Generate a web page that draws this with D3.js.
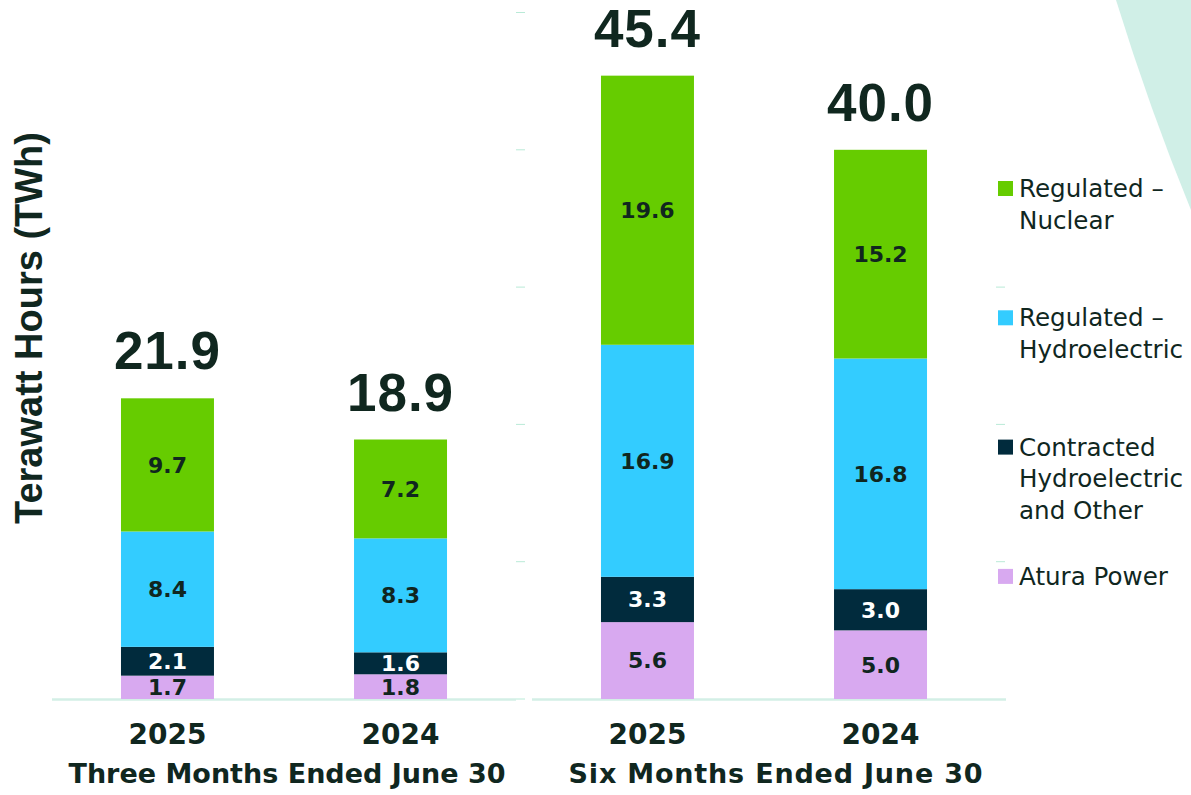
<!DOCTYPE html>
<html>
<head>
<meta charset="utf-8">
<script src="https://cdn.jsdelivr.net/npm/d3@7/dist/d3.min.js"></script>
<style>
  html, body { margin: 0; padding: 0; background: #ffffff; }
  svg { display: block; }
</style>
</head>
<body>
<svg id="chart" width="1191" height="795"></svg>
<script>
// ---------- data ----------
const years = ["2025", "2024"];
const periods = ["Three Months Ended June 30", "Six Months Ended June 30"];
const seriesNames = ["Atura Power", "Contracted Hydroelectric and Other", "Regulated – Hydroelectric", "Regulated – Nuclear"];
const legendLines = [["Regulated –", "Nuclear"], ["Regulated –", "Hydroelectric"], ["Contracted", "Hydroelectric", "and Other"], ["Atura Power"]];
// values per period, per year (order of years)
const atura       = [[1.7, 1.8], [5.6, 5.0]];
const contracted  = [[2.1, 1.6], [3.3, 3.0]];
const hydro       = [[8.4, 8.3], [16.9, 16.8]];
const nuclear     = [[9.7, 7.2], [19.6, 15.2]];
const totals      = [[21.9, 18.9], [45.4, 40.0]];
const yTicks = [0, 10, 20, 30, 40, 50];

// ---------- styles ----------
const colors = ["#d8a9f0", "#012b3d", "#33ccff", "#66cc00"];
const labelColors = ["#10261f", "#ffffff", "#10261f", "#10261f"];
const textDark = "#10271f";
const mint = "#d0efe7";

const svg = d3.select("#chart");

// decorative mint shape top-right
svg.append("path")
  .attr("d", "M1116,0 Q1150,110 1191,210 L1191,0 Z")
  .attr("fill", mint);

const y = d3.scaleLinear().domain([0, 50]).range([699, 12.5]);

const panels = [
  { x0: 52, x1: 516, lineEnd: 516, tickX: 516, ticks: yTicks, labelShift: 3 },
  { x0: 532, x1: 996, lineEnd: 1006, tickX: 996, ticks: [10, 20, 30], labelShift: 12 }
];

const seriesData = [atura, contracted, hydro, nuclear];

panels.forEach((p, pi) => {
  const x = d3.scaleBand().domain(years).range([p.x0, p.x1]).paddingInner(0.601).paddingOuter(0.296);
  const g = svg.append("g");

  // baseline
  g.append("line")
    .attr("x1", p.x0).attr("x2", p.lineEnd)
    .attr("y1", y(0) + 0.5).attr("y2", y(0) + 0.5)
    .attr("stroke", "#d3efe6").attr("stroke-width", 2.5);

  // small tick marks
  g.selectAll(".tk").data(p.ticks).join("line")
    .attr("x1", p.tickX).attr("x2", p.tickX + 9)
    .attr("y1", d => y(d)).attr("y2", d => y(d))
    .attr("stroke", "#b9ead7").attr("stroke-width", 1);

  years.forEach((yr, yi) => {
    let cum = 0;
    seriesData.forEach((s, si) => {
      const v = s[pi][yi];
      const y0 = cum, y1 = cum + v;
      cum = y1;
      g.append("rect")
        .attr("x", x(yr)).attr("width", x.bandwidth())
        .attr("y", y(y1)).attr("height", y(y0) - y(y1))
        .attr("fill", colors[si]);
      g.append("text")
        .attr("x", x(yr) + x.bandwidth() / 2)
        .attr("y", (y(y0) + y(y1)) / 2)
        .attr("dy", "0.36em")
        .attr("text-anchor", "middle")
        .attr("font-family", "DejaVu Sans, sans-serif")
        .attr("font-weight", "bold")
        .attr("font-size", 22)
        .attr("fill", labelColors[si])
        .text(v.toFixed(1));
    });
    // total
    g.append("text")
      .attr("x", x(yr) + x.bandwidth() / 2)
      .attr("y", y(totals[pi][yi]) - 29)
      .attr("text-anchor", "middle")
      .attr("font-family", "Liberation Sans, Arial, sans-serif")
      .attr("font-weight", "bold")
      .attr("font-size", 53)
      .attr("letter-spacing", 1)
      .attr("fill", textDark)
      .text(totals[pi][yi].toFixed(1));
    // year label
    g.append("text")
      .attr("x", x(yr) + x.bandwidth() / 2)
      .attr("y", 744)
      .attr("text-anchor", "middle")
      .attr("font-family", "DejaVu Sans, sans-serif")
      .attr("font-weight", "bold")
      .attr("font-size", 28)
      .attr("fill", textDark)
      .text(yr);
  });

  // period label
  g.append("text")
    .attr("x", (x(years[0]) + x(years[1]) + x.bandwidth()) / 2 + p.labelShift)
    .attr("y", 783)
    .attr("text-anchor", "middle")
    .attr("font-family", "DejaVu Sans, sans-serif")
    .attr("font-weight", "bold")
    .attr("font-size", 27)
    .attr("letter-spacing", pi === 0 ? 0 : 0.8)
    .attr("fill", textDark)
    .text(periods[pi]);
});

// y-axis title
svg.append("text")
  .attr("transform", "translate(42," + 328 + ") rotate(-90)")
  .attr("text-anchor", "middle")
  .attr("font-family", "Liberation Sans, Arial, sans-serif")
  .attr("font-weight", "bold")
  .attr("font-size", 38)
  .attr("fill", textDark)
  .text("Terawatt Hours (TWh)");

// legend
const legendOrder = [3, 2, 1, 0];
const lg = svg.append("g");
legendOrder.forEach((si, i) => {
  const base = 197 + i * 129.3;
  lg.append("rect")
    .attr("x", 998).attr("y", base - 16)
    .attr("width", 15).attr("height", 15)
    .attr("fill", colors[si]);
  const t = lg.append("text")
    .attr("x", 1019).attr("y", base)
    .attr("font-family", "DejaVu Sans, sans-serif")
    .attr("font-size", 24.6)
    .attr("fill", textDark);
  legendLines[i].forEach((line, li) => {
    t.append("tspan").attr("x", 1019).attr("y", base + li * 31.7).text(line);
  });
});
</script>
</body>
</html>
